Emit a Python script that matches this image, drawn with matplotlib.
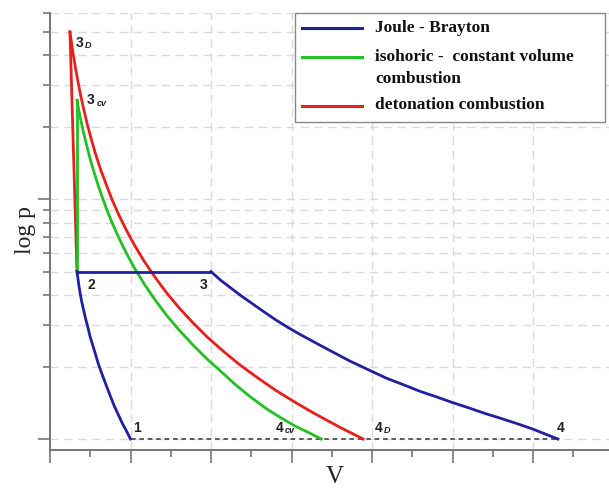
import matplotlib
matplotlib.use('Agg')
import matplotlib.pyplot as plt
from matplotlib.ticker import FixedLocator, NullFormatter
from matplotlib.patches import Rectangle
from matplotlib.lines import Line2D

# Joule - Brayton cycle (V, p)
brayton_comp_v = [1.0, 0.95, 0.9, 0.85, 0.8, 0.75, 0.7, 0.65, 0.6, 0.55, 0.5, 0.47, 0.44,
                  0.415, 0.39, 0.375, 0.36, 0.348, 0.335]
brayton_comp_p = [1.0, 1.08, 1.16, 1.26, 1.37, 1.51, 1.67, 1.85, 2.06, 2.35, 2.66, 2.93, 3.2,
                  3.48, 3.8, 4.05, 4.35, 4.65, 5.0]
brayton_heat_v = [0.335, 2.0]
brayton_heat_p = [5.0, 5.0]
brayton_exp_v = [2.0, 2.12, 2.25, 2.37, 2.5, 2.65, 2.8, 2.95, 3.1, 3.3, 3.5, 3.72, 3.95,
                 4.17, 4.4, 4.6, 4.8, 5.0, 5.2, 5.4, 5.6, 5.8, 6.0, 6.15, 6.31]
brayton_exp_p = [5.0, 4.6, 4.26, 3.97, 3.70, 3.41, 3.15, 2.93, 2.74, 2.52, 2.32, 2.12, 1.95,
                 1.80, 1.68, 1.58, 1.50, 1.42, 1.35, 1.28, 1.22, 1.16, 1.10, 1.05, 1.0]

# isohoric (constant volume) combustion
cv_heat_v = [0.335, 0.335]
cv_heat_p = [5.0, 25.9]
cv_exp_v = [0.335, 0.35, 0.37, 0.395, 0.42, 0.46, 0.5, 0.55, 0.6, 0.65, 0.7, 0.77, 0.85,
            0.95, 1.05, 1.17, 1.3, 1.45, 1.6, 1.77, 1.95, 2.12, 2.3, 2.5, 2.7, 2.88, 3.05,
            3.2, 3.37]
cv_exp_p = [25.9, 24.3, 22.5, 20.5, 18.8, 16.6, 14.7, 12.9, 11.4, 10.2, 9.16, 8.01, 6.97,
            5.96, 5.17, 4.44, 3.83, 3.28, 2.86, 2.48, 2.16, 1.92, 1.69, 1.49, 1.33, 1.22,
            1.13, 1.07, 1.0]

# detonation combustion
det_heat_v = [0.335, 0.248]
det_heat_p = [5.0, 50.0]
det_exp_v = [0.248, 0.26, 0.28, 0.30, 0.32, 0.35, 0.38, 0.41, 0.46, 0.51, 0.56, 0.63, 0.7,
             0.77, 0.85, 0.95, 1.05, 1.17, 1.3, 1.45, 1.6, 1.77, 1.95, 2.15, 2.35, 2.57,
             2.8, 3.05, 3.3, 3.6, 3.89]
det_exp_p = [50.0, 46.8, 42.1, 38.2, 34.8, 30.7, 27.3, 24.5, 20.8, 18.0, 15.7, 13.3, 11.5,
             10.0, 8.69, 7.43, 6.44, 5.52, 4.76, 4.07, 3.54, 3.07, 2.67, 2.33, 2.05, 1.81,
             1.60, 1.42, 1.27, 1.12, 1.0]

y_major = [1, 10]
y_minor = [2, 3, 4, 5, 6, 7, 8, 9, 20, 30, 40, 50, 60]
x_major = [0, 1, 2, 3, 4, 5, 6]
x_minor = [0.5, 1.5, 2.5, 3.5, 4.5, 5.5, 6.5]

legend_labels = ['Joule - Brayton', 'isohoric -  constant volume', 'combustion', 'detonation combustion']

BLUE = '#2020a0'
GREEN = '#22c022'
RED = '#e8201c'

fig = plt.figure(figsize=(6.09, 4.88), dpi=100, facecolor='white')
ax = fig.add_axes([50/609, 38/488, 559/609, 437/488])
ax.set_yscale('log')
ax.set_xlim(0, 559/80.5)
ax.set_ylim(0.9, 60)

ax.yaxis.set_major_locator(FixedLocator(y_major))
ax.yaxis.set_minor_locator(FixedLocator(y_minor))
ax.yaxis.set_major_formatter(NullFormatter())
ax.yaxis.set_minor_formatter(NullFormatter())
ax.xaxis.set_major_locator(FixedLocator(x_major))
ax.xaxis.set_minor_locator(FixedLocator(x_minor))
ax.xaxis.set_major_formatter(NullFormatter())

grid_kw = dict(color='#dadada', linestyle=(0, (6, 4)), linewidth=1.0)
ax.grid(True, which='both', axis='y', **grid_kw)
ax.grid(True, which='major', axis='x', **grid_kw)
ax.set_axisbelow(True)

for s in ['top', 'right']:
    ax.spines[s].set_visible(False)
for s in ['left', 'bottom']:
    ax.spines[s].set_color('#777777')
    ax.spines[s].set_linewidth(1.4)
ax.tick_params(which='major', length=9, width=1.2, color='#777777')
ax.tick_params(which='minor', length=5, width=1.2, color='#777777')

# dashed isobar 4 -> 1
ax.plot([brayton_comp_v[0], brayton_exp_v[-1]], [brayton_comp_p[0], brayton_exp_p[-1]],
        color='#333333', linestyle=(0, (3, 2.5)), linewidth=1.1, zorder=2)

lw = 2.0
ax.plot(det_heat_v, det_heat_p, color=RED, lw=lw, zorder=3)
ax.plot(det_exp_v, det_exp_p, color=RED, lw=lw, zorder=3)
ax.plot(cv_heat_v, cv_heat_p, color=GREEN, lw=lw, zorder=4)
ax.plot(cv_exp_v, cv_exp_p, color=GREEN, lw=lw, zorder=4)
ax.plot(brayton_comp_v, brayton_comp_p, color=BLUE, lw=lw, zorder=5)
ax.plot(brayton_heat_v, brayton_heat_p, color=BLUE, lw=lw, zorder=5)
ax.plot(brayton_exp_v, brayton_exp_p, color=BLUE, lw=lw, zorder=5)


def label(v, p, txt, dx, dy, sub=None):
    ax.annotate(txt, (v, p), xytext=(dx, dy), textcoords='offset points',
                ha='center', va='center', fontsize=10, fontweight='bold',
                family='Liberation Sans', color='#222222', zorder=6)
    if sub:
        ax.annotate(sub, (v, p), xytext=(dx + 4, dy - 2), textcoords='offset points',
                    ha='left', va='center', fontsize=6.5, fontweight='bold', style='italic',
                    family='Liberation Sans', color='#222222', zorder=6)


label(brayton_comp_v[0], brayton_comp_p[0], '1', 5, 8)
label(brayton_comp_v[-1], brayton_comp_p[-1], '2', 10, -10)
label(brayton_exp_v[0], brayton_exp_p[0], '3', -5, -10)
label(brayton_exp_v[-1], brayton_exp_p[-1], '4', 2, 8)
label(det_exp_v[0], det_exp_p[0], '3', 7, -8, 'D')
label(cv_exp_v[0], cv_exp_p[0], '3', 10, 0, 'cv')
label(cv_exp_v[-1], cv_exp_p[-1], '4', -30, 8, 'cv')
label(det_exp_v[-1], det_exp_p[-1], '4', 11, 8, 'D')

# legend box
def ax_x(px):
    return (px - 50) / 559.0


def ax_y(py):
    return (450 - py) / 437.0


ax.add_patch(Rectangle((ax_x(295), ax_y(122)), ax_x(605) - ax_x(295), ax_y(13) - ax_y(122),
                       transform=ax.transAxes, facecolor='white', edgecolor='#888888',
                       linewidth=1.0, zorder=7, clip_on=False))
leg_font = dict(family='Liberation Serif', fontweight='bold', fontsize=12.5, color='#111111',
                transform=ax.transAxes, va='center', ha='left', zorder=8)
for col, py in [(BLUE, 28), (GREEN, 57), (RED, 106)]:
    ax.add_line(Line2D([ax_x(302), ax_x(362)], [ax_y(py), ax_y(py)], color=col, lw=2.2,
                       transform=ax.transAxes, zorder=8, clip_on=False))
for txt, py in zip(legend_labels, [28, 57, 79, 105]):
    ax.text(ax_x(375), ax_y(py), txt, **leg_font)

fig.text(26/609, 1 - 230/488, 'log p', rotation=90, ha='center', va='center',
         family='Liberation Serif', fontsize=17, color='#222222')
fig.text(335/609, 1 - 466/488, 'V', ha='center', va='top',
         family='Liberation Serif', fontsize=18, color='#222222')

fig.savefig('out.png', dpi=100, facecolor='white')
